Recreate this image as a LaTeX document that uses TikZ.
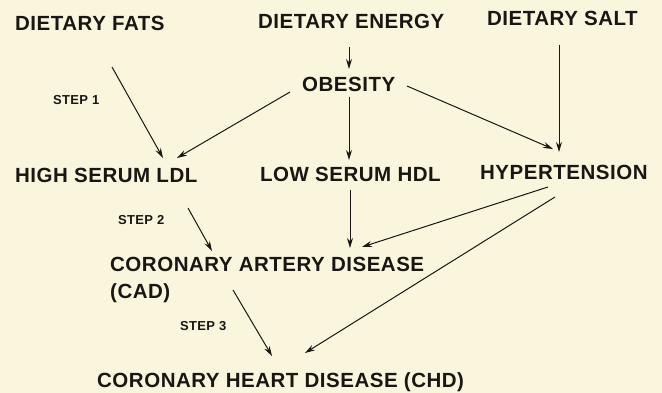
\documentclass[tikz,border=0pt]{standalone}
\usepackage{fontspec}
\setmainfont{Liberation Sans}[LetterSpace=2.5]
\usetikzlibrary{arrows.meta}
\definecolor{paper}{RGB}{250,246,221}
\definecolor{ink}{RGB}{25,22,20}
\begin{document}
\begin{tikzpicture}[x=1pt,y=-1pt,
  lbl/.style={anchor=south west,inner sep=0pt,text height=15pt,text depth=0pt,text=ink,
    font=\fontsize{20.5}{24}\selectfont\bfseries},
  steplbl/.style={anchor=south west,inner sep=0pt,text height=8pt,text depth=0pt,text=ink,
    font=\fontsize{13}{15}\selectfont\bfseries},
  arr/.style={draw=ink,line width=1pt,-{Stealth[length=10pt,width=6pt]}}]
\fill[paper] (0,0) rectangle (662,393);
\useasboundingbox (0,0) rectangle (662,393);

\node[lbl] (fats) at (15,31) {DIETARY FATS};
\node[lbl] (energy) at (258,29) {DIETARY ENERGY};
\node[lbl] (salt) at (487,26) {DIETARY SALT};
\node[lbl] (obesity) at (302,92) {OBESITY};
\node[steplbl] (step1) at (53,105) {STEP 1};
\node[lbl] (ldl) at (15,183) {HIGH SERUM LDL};
\node[lbl] (hdl) at (260,182) {LOW SERUM HDL};
\node[lbl] (hyp) at (480,180) {HYPERTENSION};
\node[steplbl] (step2) at (118,225) {STEP 2};
\node[lbl] (cad) at (110,272) {CORONARY ARTERY DISEASE};
\node[lbl] (cadabbr) at (110,299) {(CAD)};
\node[steplbl] (step3) at (180,331) {STEP 3};
\node[lbl] (chd) at (97,388) {CORONARY HEART DISEASE (CHD)};

\draw[arr] ([shift={(97,36)}]fats.south west) -- ([shift={(148,-25)}]ldl.south west);
\draw[arr] ([shift={(-12,0)}]obesity.south west) -- ([shift={(162,-25)}]ldl.south west);
\draw[arr] ([shift={(91,18)}]energy.south west) -- ([shift={(47,-23)}]obesity.south west);
\draw[arr] ([shift={(47,5)}]obesity.south west) -- ([shift={(89,-22)}]hdl.south west);
\draw[arr] ([shift={(105,-6)}]obesity.south west) -- ([shift={(73,-31)}]hyp.south west);
\draw[arr] ([shift={(72,19)}]salt.south west) -- ([shift={(79,-28)}]hyp.south west);
\draw[arr] ([shift={(90,8)}]hdl.south west) -- ([shift={(240,-24)}]cad.south west);
\draw[arr] ([shift={(68,7)}]hyp.south west) -- ([shift={(252,-25)}]cad.south west);
\draw[arr] ([shift={(75,17)}]hyp.south west) -- ([shift={(208,-35)}]chd.south west);
\draw[arr] ([shift={(173,25)}]ldl.south west) -- ([shift={(102,-21)}]cad.south west);
\draw[arr] ([shift={(123,-9)}]cadabbr.south west) -- ([shift={(175,-32)}]chd.south west);
\end{tikzpicture}
\end{document}
